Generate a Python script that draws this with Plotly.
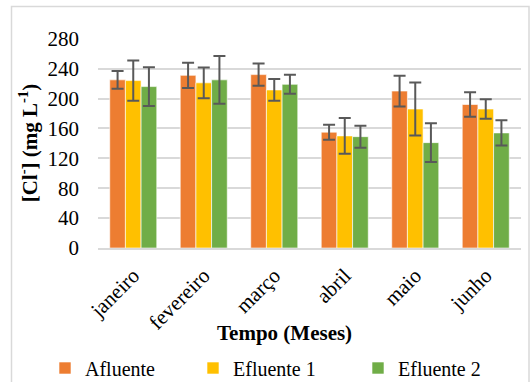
import plotly.graph_objects as go

months = ["janeiro", "fevereiro", "março", "abril", "maio", "junho"]
afluente = [225, 231, 232, 155, 210, 192]
afluente_err = [12, 17, 15, 10, 20.5, 16.5]
efluente1 = [224, 221, 211.5, 150, 186, 186]
efluente1_err = [27, 20.5, 14.5, 24, 35.5, 13]
efluente2 = [216, 225, 219, 149, 141, 154]
efluente2_err = [26, 32, 12.7, 14.7, 26, 17]
y_ticks = [0, 40, 80, 120, 160, 200, 240, 280]

FONT = "Liberation Serif"
TXT = "#000000"
ERR = "#595959"

series = [
    ("Afluente", afluente, afluente_err, "#ED7D31", "legend"),
    ("Efluente 1", efluente1, efluente1_err, "#FFC000", "legend2"),
    ("Efluente 2", efluente2, efluente2_err, "#70AD47", "legend3"),
]

fig = go.Figure()
for name, vals, errs, col, lg in series:
    fig.add_trace(go.Bar(
        x=months, y=vals, name=name, legend=lg, showlegend=True,
        marker=dict(color=col, line=dict(color="rgba(255,255,255,0.6)", width=1)),
        error_y=dict(type="data", array=errs, visible=True, color=ERR,
                     thickness=2, width=6),
    ))

W, H = 530, 382
L, R, T, B = 98, 9, 38, 134
pw, ph = W - L - R, H - T - B

def px(x):
    return (x - L) / pw

def py(y):
    return (H - B - y) / ph

legend_common = dict(orientation="h", yanchor="middle", xanchor="left",
                     xref="container", yref="container", visible=True,
                     font=dict(family=FONT, size=20, color=TXT),
                     bgcolor="rgba(0,0,0,0)", itemwidth=30, tracegroupgap=0)

fig.update_layout(
    width=W, height=H, showlegend=True,
    margin=dict(l=L, r=R, t=T, b=B, pad=0, autoexpand=False),
    paper_bgcolor="white", plot_bgcolor="white",
    barmode="group", bargap=0.333, bargroupgap=0,
    font=dict(family=FONT, size=20, color=TXT),
    xaxis=dict(
        automargin=False,
        tickangle=-45, showgrid=False, showline=True, linecolor="#d9d9d9",
        linewidth=2, ticks="", ticklabelstandoff=5,
        tickfont=dict(family=FONT, size=21, color=TXT),
    ),
    yaxis=dict(
        automargin=False,
        range=[0, 281], tickvals=y_ticks, showgrid=True, gridcolor="#d9d9d9",
        gridwidth=2, zeroline=False, showline=False, ticks="",
        ticklabelstandoff=18,
        tickfont=dict(family=FONT, size=21, color=TXT),
        title=dict(text="<b>[Cl<sup>-</sup>] (mg L<sup>-1</sup>)</b>",
                   font=dict(family=FONT, size=21, color=TXT), standoff=4),
    ),
    legend=dict(**legend_common, x=45 / W, y=1 - 368 / H),
    legend2=dict(**legend_common, x=193 / W, y=1 - 368 / H),
    legend3=dict(**legend_common, x=358 / W, y=1 - 368 / H),
    annotations=[dict(text="<b>Tempo (Meses)</b>", xref="paper", yref="paper",
                      x=px(284.5), y=py(333), xanchor="center", yanchor="middle",
                      showarrow=False, font=dict(family=FONT, size=21, color=TXT))],
    shapes=[dict(type="rect", xref="paper", yref="paper",
                 x0=px(11.5), x1=px(529), y0=py(395), y1=py(6.5),
                 line=dict(color="#d9d9d9", width=1.5), fillcolor="rgba(0,0,0,0)",
                 layer="below")],
)

fig.write_html("out.html")
